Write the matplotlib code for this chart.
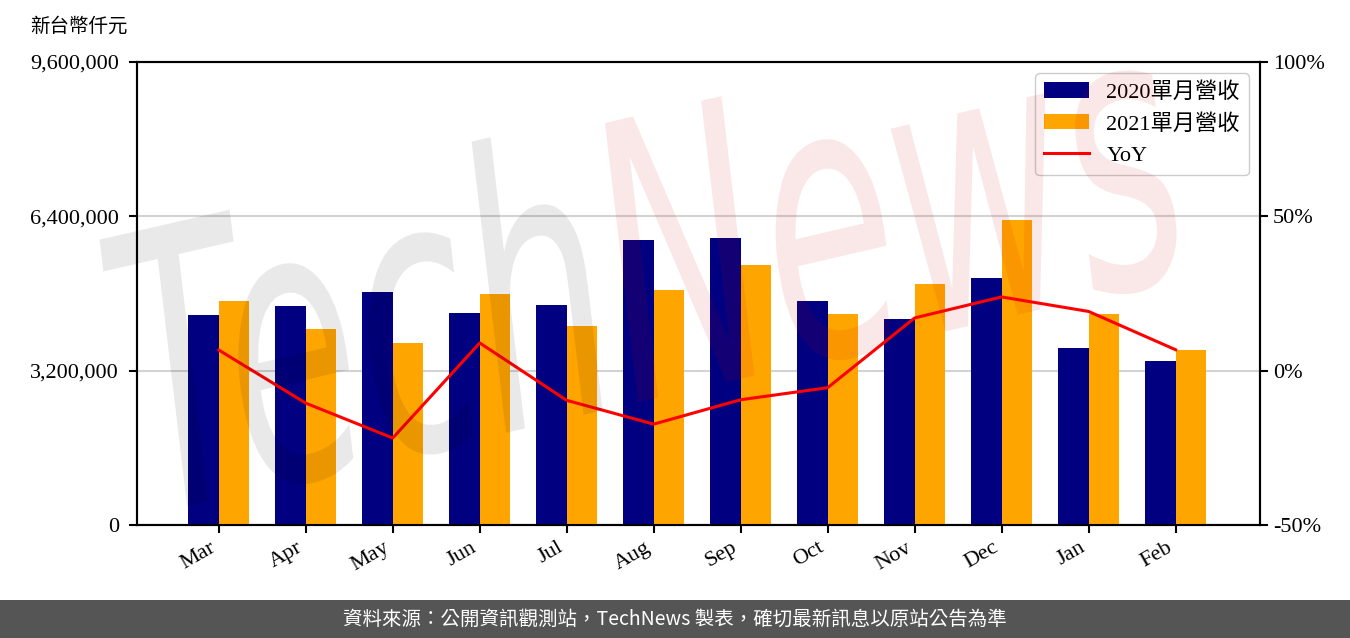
import numpy as np
import matplotlib
matplotlib.use('Agg')
import matplotlib.pyplot as plt
from matplotlib.ticker import FuncFormatter
from matplotlib.textpath import TextPath, TextToPath
from matplotlib.font_manager import FontProperties
from matplotlib.patches import PathPatch
from matplotlib.transforms import Affine2D, IdentityTransform

plt.rcParams['font.family'] = ['Liberation Serif', 'Noto Sans CJK TC']

months = ['Mar', 'Apr', 'May', 'Jun', 'Jul', 'Aug', 'Sep', 'Oct', 'Nov', 'Dec', 'Jan', 'Feb']
rev_2020 = [4354000, 4540000, 4830000, 4400000, 4560000, 5910000,
            5950000, 4640000, 4270000, 5120000, 3670000, 3400000]
rev_2021 = [4640000, 4060000, 3770000, 4790000, 4130000, 4870000,
            5390000, 4375000, 5000000, 6320000, 4375000, 3630000]
yoy = [6.7, -10.5, -21.8, 9.0, -9.6, -17.3, -9.4, -5.5, 17.1, 23.9, 19.2, 6.8]

fs = 16
fig = plt.figure(figsize=(13.5, 6.38), dpi=100)
ax = fig.add_axes([0.1015, 0.177, 0.8318, 0.7258])

x = np.arange(len(months))
w = 0.35
b1 = ax.bar(x - w / 2, rev_2020, w, color='#000080', zorder=3)
b2 = ax.bar(x + w / 2, rev_2021, w, color='#ffa500', zorder=3)

ax.set_ylim(0, 9600000)
ax.set_yticks([0, 3200000, 6400000, 9600000])
ax.yaxis.set_major_formatter(FuncFormatter(lambda v, p: '{:,.0f}'.format(v)))
ax.set_xlim(-0.94, 11.97)
ax.set_xticks(x)
ax.set_xticklabels(months, rotation=30, ha='right')
ax.grid(axis='y', color='#d3d3d3', linewidth=1.5, zorder=0)
ax.tick_params(labelsize=fs, width=1.5, length=6)
ax.tick_params(axis='y', pad=7)
for s in ax.spines.values():
    s.set_linewidth(1.5)

ax2 = ax.twinx()
line, = ax2.plot(x, yoy, color='red', linewidth=2.2, zorder=4)
ax2.set_ylim(-50, 100)
ax2.set_yticks([-50, 0, 50, 100])
ax2.yaxis.set_major_formatter(FuncFormatter(lambda v, p: '%d%%' % v))
ax2.tick_params(labelsize=fs, width=1.5, length=6)
for s in ax2.spines.values():
    s.set_linewidth(1.5)

ax2.legend([b1, b2, line], ['2020單月營收', '2021單月營收', 'YoY'],
           loc='upper right', fontsize=fs, edgecolor='#cccccc', framealpha=1)

fig.text(0.022, 0.958, '新台幣仟元', fontsize=14, ha='left', va='center')

# footer
fig.patches.append(plt.Rectangle((0, 0), 1, 0.0596, transform=fig.transFigure,
                                 facecolor='#555555', edgecolor='none', zorder=0))
fig.text(0.5, 0.03, '資料來源：公開資訊觀測站，TechNews 製表，確切最新訊息以原站公告為準',
         fontsize=14, color='white', ha='center', va='center',
         family=['Noto Sans CJK TC', 'DejaVu Sans'])

# watermark, drawn over the chart with transparency
wm_prop = FontProperties(family='DejaVu Sans', style='italic', weight='normal')
t2p = TextToPath()
tech_w = t2p.get_text_width_height_descent('Tech', wm_prop, ismath=False)[0]
full_w = t2p.get_text_width_height_descent('TechNews', wm_prop, ismath=False)[0]
p_tech = TextPath((0, 0), 'Tech', size=wm_prop.get_size_in_points(), prop=wm_prop)
p_news = TextPath((tech_w, 0), 'News', size=wm_prop.get_size_in_points(), prop=wm_prop)
cap = 0.73 * wm_prop.get_size_in_points()
sx = 1080 / full_w
sy = 280 / cap
tr = Affine2D().scale(sx, sy).rotate_deg(13).translate(150, 638 - 515)
fig.add_artist(PathPatch(p_tech, transform=tr + IdentityTransform(),
                         facecolor='black', edgecolor='none', alpha=0.085, zorder=10))
fig.add_artist(PathPatch(p_news, transform=tr + IdentityTransform(),
                         facecolor='#c80000', edgecolor='none', alpha=0.09, zorder=10))

plt.savefig('out.png', dpi=100)
